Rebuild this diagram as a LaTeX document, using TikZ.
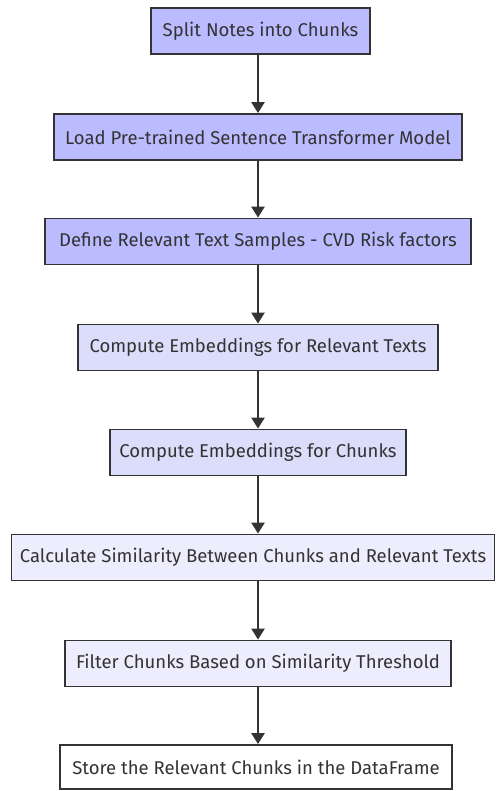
\documentclass[tikz,border=0pt]{standalone}
\usepackage{fontspec}
\setmainfont{Fira Sans}
\usetikzlibrary{arrows.meta}
\definecolor{fa}{HTML}{BBBBFF}
\definecolor{fb}{HTML}{DCDCFB}
\definecolor{fc}{HTML}{EDEDFD}
\definecolor{edge}{HTML}{333333}
\begin{document}
\begin{tikzpicture}[x=1pt,y=1pt,
  box/.style={draw=edge, line width=1.8pt, minimum height=46pt, inner sep=0pt, text=edge, font=\fontsize{18.5}{22}\selectfont},
  arr/.style={draw=edge, line width=2.4pt, -{Triangle[width=13pt,length=11pt]}}]
\fill[white] (0,0) rectangle (496,-791);
\useasboundingbox (0,0) rectangle (496,-791);
\node[box, fill=fa, minimum width=219pt] (n1) at (260.5,-31) {Split Notes into Chunks};
\node[box, fill=fa, minimum width=408pt] (n2) at (258,-137) {Load Pre-trained Sentence Transformer Model};
\node[box, fill=fa, minimum width=426pt] (n3) at (258,-241.5) {Define Relevant Text Samples - CVD Risk factors};
\node[box, fill=fb, minimum width=360pt] (n4) at (258,-347.5) {Compute Embeddings for Relevant Texts};
\node[box, fill=fb, minimum width=296pt] (n5) at (258,-452.5) {Compute Embeddings for Chunks};
\node[box, fill=fc, minimum width=483pt] (n6) at (253,-557.5) {Calculate Similarity Between Chunks and Relevant Texts};
\node[box, fill=fc, minimum width=386pt] (n7) at (258,-663.5) {Filter Chunks Based on Similarity Threshold};
\node[box, fill=white, minimum width=392pt, minimum height=44pt] (n8) at (256,-767) {Store the Relevant Chunks in the DataFrame};
\draw[arr] (n1.south -| n2) -- (n2.north);
\draw[arr] (n2.south) -- (n3.north);
\draw[arr] (n3.south) -- (n4.north);
\draw[arr] (n4.south) -- (n5.north);
\draw[arr] (n5.south) -- (n6.north -| n5);
\draw[arr] (n6.south -| n7) -- (n7.north);
\draw[arr] (n7.south) -- (n8.north -| n7);
\end{tikzpicture}
\end{document}
